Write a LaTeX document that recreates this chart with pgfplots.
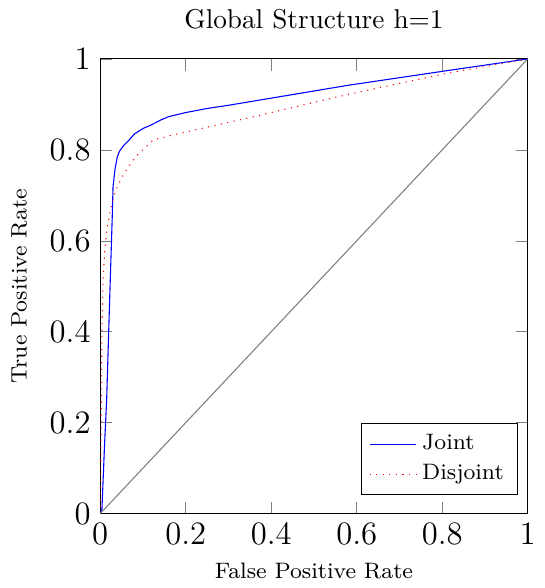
\documentclass[border=0pt]{standalone}
\usepackage{pgfplots}
\pgfplotsset{compat=1.18}
\begin{document}
\begin{tikzpicture}
\begin{axis}[
  scale only axis,
  width=157pt, height=167pt,
  xmin=0, xmax=1, ymin=0, ymax=1,
  xtick={0,0.2,0.4,0.6,0.8,1},
  ytick={0,0.2,0.4,0.6,0.8,1},
  title={Global Structure h=1},
  title style={yshift=1.5pt},
  xlabel={False Positive Rate},
  ylabel={True Positive Rate},
  ylabel shift=1.5pt,
  label style={font=\fontsize{8.2}{10}\selectfont},
  tick label style={font=\fontsize{13}{15}\selectfont},
  legend cell align=left,
  legend style={at={(0.977,0.04)}, anchor=south east, font=\fontsize{8.2}{10}\selectfont},
]
\addplot[color=blue, draw=blue, solid] coordinates {
(0,0) (0.004,0.01) (0.01,0.15) (0.015,0.25) (0.022,0.47) (0.028,0.65) (0.03,0.72)
(0.035,0.76) (0.04,0.785) (0.045,0.797) (0.055,0.81) (0.066,0.82) (0.08,0.835)
(0.1,0.847) (0.12,0.855) (0.14,0.865) (0.16,0.873) (0.2,0.882) (0.25,0.891)
(0.3,0.898) (0.58,0.942) (0.81,0.974) (1,1)};
\addlegendentry{Joint}
\addplot[color=red, dotted] coordinates {
(0,0) (0.002,0.2) (0.004,0.4) (0.006,0.5) (0.01,0.57) (0.015,0.62) (0.023,0.665)
(0.035,0.709) (0.054,0.746) (0.081,0.783) (0.105,0.805) (0.124,0.822) (0.18,0.835)
(0.26,0.852) (0.35,0.871) (0.58,0.922) (0.81,0.968) (1,1)};
\addlegendentry{Disjoint}
\addplot[gray, forget plot] coordinates {(0,0) (1,1)};
\end{axis}
\path ([xshift=-0.8pt]current bounding box.west) circle (0pt);
\end{tikzpicture}
\end{document}
